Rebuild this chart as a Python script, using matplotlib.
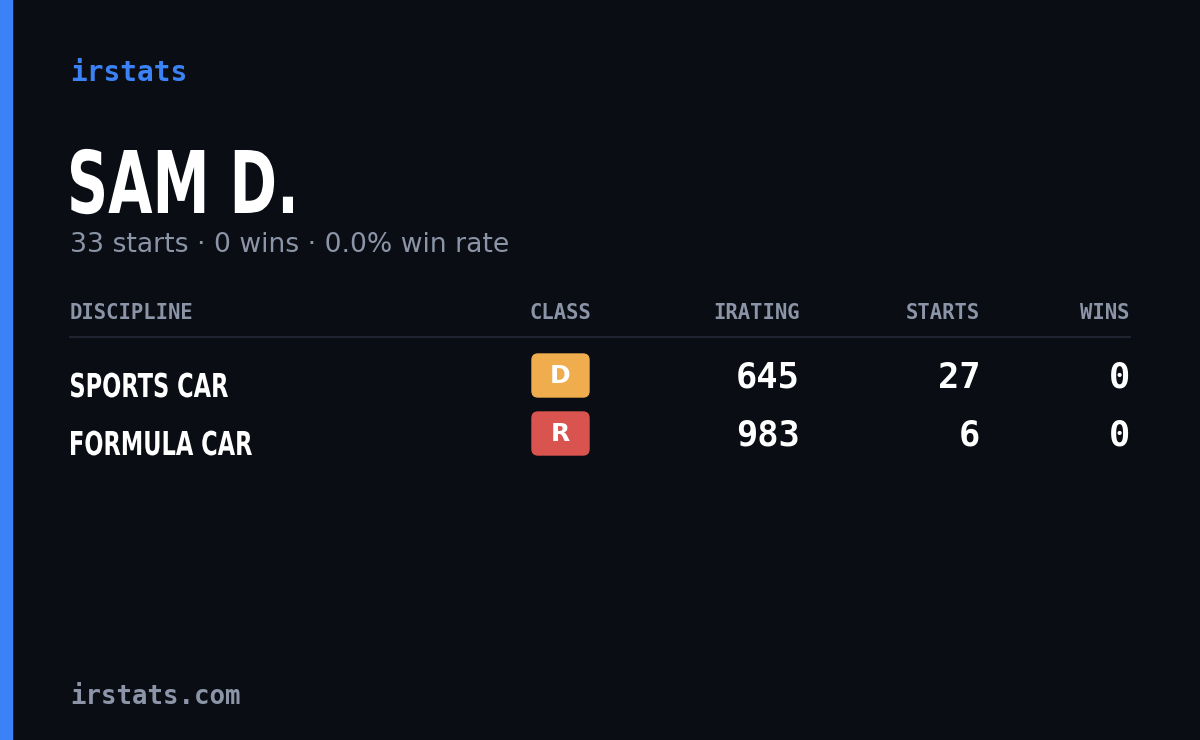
import matplotlib
matplotlib.use("Agg")
import matplotlib.pyplot as plt
from matplotlib.patches import Rectangle, FancyBboxPatch, PathPatch
from matplotlib.textpath import TextPath
from matplotlib.font_manager import FontProperties
from matplotlib.transforms import Affine2D

disciplines = ["SPORTS CAR", "FORMULA CAR"]
classes = ["D", "R"]
class_colors = ["#f0ad4e", "#d9534f"]
iratings = [645, 983]
starts = [27, 6]
wins = [0, 0]
name = "SAM D."
total_starts, total_wins, win_rate = 33, 0, 0.0

W, H = 1200, 740
fig = plt.figure(figsize=(12, 7.4), dpi=100)
fig.patch.set_facecolor("#0a0d14")
ax = fig.add_axes([0, 0, 1, 1])
ax.set_xlim(0, W); ax.set_ylim(H, 0); ax.axis("off")

def narrow_text(s, x, baseline, cap_h, width):
    fp = FontProperties(family="DejaVu Sans", weight="bold")
    tp = TextPath((0, 0), s, size=100, prop=fp)
    ext = tp.get_extents()
    capref = TextPath((0, 0), "H", size=100, prop=fp).get_extents().height
    sy = cap_h / capref
    sx = width / ext.width
    tr = Affine2D().translate(-ext.x0, 0).scale(sx, -sy).translate(x, baseline)
    ax.add_patch(PathPatch(tr.transform_path(tp), color="white", lw=0))

ax.add_patch(Rectangle((0, 0), 12, H, color="#3b82f6"))
mono = "DejaVu Sans Mono"
gray = "#8b95a7"
ax.text(70, 73, "irstats", color="#3b82f6", family=mono, fontsize=20, va="center", fontweight="bold")
narrow_text(name, 71, 213, 63, 222)
ax.text(70, 245, f"{total_starts} starts · {total_wins} wins · {win_rate:.1f}% win rate",
        color=gray, family="DejaVu Sans", fontsize=19.2, va="center")

hy = 313
kw = dict(color=gray, family=mono, fontsize=14.8, va="center", fontweight="bold")
ax.text(70, hy, "DISCIPLINE", **kw)
ax.text(560, hy, "CLASS", ha="center", **kw)
ax.text(800, hy, "IRATING", ha="right", **kw)
ax.text(980, hy, "STARTS", ha="right", **kw)
ax.text(1130, hy, "WINS", ha="right", **kw)
ax.plot([70, 1130], [337, 337], color="#1f2430", lw=1.5)

disc_w = [157, 181]
for i, d in enumerate(disciplines):
    by = 376 + 58 * i
    narrow_text(d, 71, 397 + 58 * i, 24, disc_w[i])
    ax.add_patch(FancyBboxPatch((532, by - 22), 57, 43, boxstyle="round,pad=0,rounding_size=6",
                                color=class_colors[i]))
    ax.text(560, by, classes[i], color="white", family="DejaVu Sans", fontweight="bold",
            fontsize=18, ha="center", va="center")
    nk = dict(color="white", family=mono, fontsize=25.5, ha="right", va="center", fontweight="bold")
    ax.text(800, by + 2, str(iratings[i]), **nk)
    ax.text(980, by + 2, str(starts[i]), **nk)
    ax.text(1130, by + 2, str(wins[i]), **nk)

ax.text(70, 697, "irstats.com", color=gray, family=mono, fontsize=18.5, va="center", fontweight="bold")
fig.savefig("out.png", dpi=100, facecolor=fig.get_facecolor())
